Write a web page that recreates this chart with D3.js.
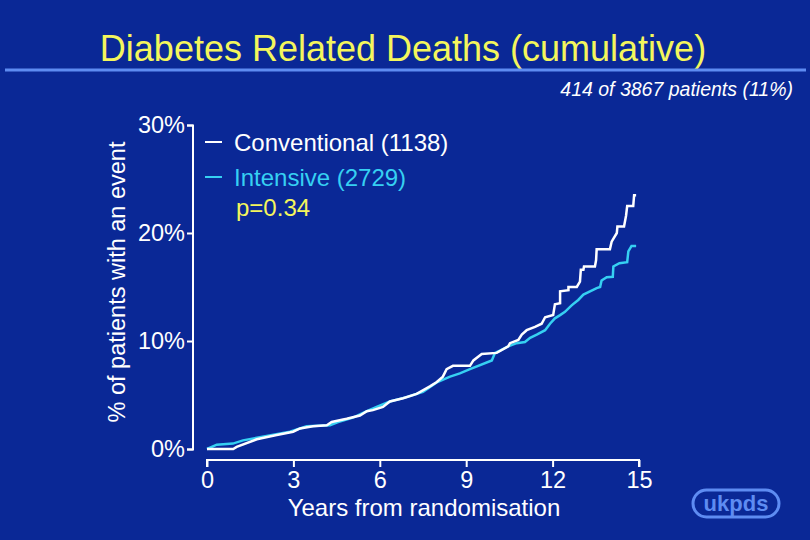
<!DOCTYPE html>
<html><head><meta charset="utf-8">
<script src="https://cdn.jsdelivr.net/npm/d3@7/dist/d3.min.js"></script>
<style>html,body{margin:0;padding:0;background:#0a2896;}svg{display:block;}</style>
</head><body>
<script>
// ---- data (years from randomisation, cumulative % with event) ----
const conventionalT = [0,0.91,1.03,1.73,2.42,2.99,3.23,3.68,4.16,4.33,4.85,5.31,5.55,5.76,6.11,6.35,6.81,7.28,7.74,7.98,8.19,8.32,8.54,9.13,9.25,9.54,10.06,10.46,10.52,10.81,10.93,11.10,11.39,11.62,11.74,12.02,12.08,12.26,12.26,12.55,12.55,12.84,12.95,12.98,13.07,13.09,13.47,13.51,13.53,13.99,14.05,14.23,14.25,14.48,14.55,14.59,14.80,14.83,14.90];
const conventionalV = [0,0,0.2,0.9,1.3,1.6,1.9,2.1,2.2,2.5,2.8,3.1,3.5,3.6,3.9,4.4,4.7,5.1,5.8,6.2,6.7,7.4,7.7,7.7,8.2,8.8,8.9,9.5,9.8,10.1,10.6,11.0,11.3,11.6,12.2,12.4,13.4,13.5,14.6,14.7,15.0,15.0,15.5,16.6,16.6,16.9,16.9,17.5,18.5,18.5,19.2,20.0,20.6,20.6,21.6,22.5,22.5,23.5,23.5];
const intensiveT = [0,0.34,0.90,1.25,2.07,2.88,3.46,4.27,4.55,5.07,5.55,5.89,6.35,6.93,7.50,8.00,8.44,8.78,9.13,9.89,10.00,10.17,10.46,10.75,11.04,11.22,11.45,11.74,11.91,12.08,12.26,12.43,12.66,12.89,13.07,13.30,13.53,13.65,13.70,13.88,14.09,14.11,14.32,14.59,14.63,14.74,14.90];
const intensiveV = [0,0.4,0.5,0.8,1.2,1.6,2.1,2.2,2.5,2.9,3.5,3.9,4.4,4.8,5.3,6.2,6.7,7.0,7.4,8.2,8.9,9.1,9.5,9.8,9.9,10.3,10.6,11.0,11.6,12.1,12.4,12.7,13.3,13.8,14.3,14.6,14.9,15.0,15.6,15.9,15.95,16.9,17.2,17.3,18.3,18.8,18.8];
const xTicks = [0,3,6,9,12,15];
const yTicks = [0,10,20,30];
const legendLabels = ["Conventional (1138)","Intensive (2729)"];
const pLabel = "p=0.34";
const titleText = "Diabetes Related Deaths (cumulative)";
const subtitleText = "414 of 3867 patients (11%)";
const xLabel = "Years from randomisation";
const yLabel = "% of patients with an event";

const W = 810, H = 540;
const BG = "#0a2896", WHITE = "#ffffff", CYAN = "#36d0f2", YELLOW = "#f4f65c", LBLUE = "#5e8cf2";
const FONT = "'Liberation Sans', Arial, sans-serif";

const svg = d3.select("body").append("svg").attr("width", W).attr("height", H);
svg.append("rect").attr("width", W).attr("height", H).attr("fill", BG);

// title
svg.append("text").attr("x", 403).attr("y", 61).attr("text-anchor","middle")
  .attr("font-family", FONT).attr("font-size", 36).attr("fill", YELLOW).text(titleText);
svg.append("line").attr("x1", 5).attr("x2", 806).attr("y1", 70).attr("y2", 70)
  .attr("stroke", LBLUE).attr("stroke-width", 3);
svg.append("text").attr("x", 793).attr("y", 96).attr("text-anchor","end")
  .attr("font-family", FONT).attr("font-size", 19.5).attr("font-style","italic").attr("fill", WHITE).text(subtitleText);

const x = d3.scaleLinear().domain([0,15]).range([207,639]);
const y = d3.scaleLinear().domain([0,30]).range([449,125]);

// y axis
const yAxis = svg.append("g").attr("transform","translate(193,0)")
  .call(d3.axisLeft(y).tickValues(yTicks).tickSize(6).tickPadding(2).tickFormat(d => d + "%"));
// x axis
const xAxis = svg.append("g").attr("transform","translate(0,460)")
  .call(d3.axisBottom(x).tickValues(xTicks).tickSize(7).tickPadding(4));
[yAxis, xAxis].forEach(g => {
  g.select(".domain").attr("stroke", WHITE).attr("stroke-width", 2);
  g.selectAll(".tick line").attr("stroke", WHITE).attr("stroke-width", 2);
  g.selectAll(".tick text").attr("fill", WHITE).attr("font-family", FONT).attr("font-size", 23.5);
});
yAxis.select(".domain").attr("d", "M-6,125.5H0V449.5H-6");
xAxis.select(".domain").attr("d", "M207,7V0H639V7");

svg.append("text").attr("transform","translate(125,282) rotate(-90)").attr("text-anchor","middle")
  .attr("font-family", FONT).attr("font-size", 23.5).attr("fill", WHITE).text(yLabel);
svg.append("text").attr("x", 424).attr("y", 516).attr("text-anchor","middle")
  .attr("font-family", FONT).attr("font-size", 24).attr("fill", WHITE).text(xLabel);

// curves
const line = d3.line().x(d => x(d[0])).y(d => y(d[1])).curve(d3.curveLinear);
const conv = conventionalT.map((t,i) => [t, conventionalV[i]]);
const inten = intensiveT.map((t,i) => [t, intensiveV[i]]);
svg.append("path").attr("d", line(inten)).attr("fill","none").attr("stroke", CYAN).attr("stroke-width", 2.5);
svg.append("path").attr("d", line(conv)).attr("fill","none").attr("stroke", WHITE).attr("stroke-width", 2.5);

// legend
const leg = [{label: legendLabels[0], color: WHITE, y: 151},{label: legendLabels[1], color: CYAN, y: 186}];
leg.forEach(l => {
  svg.append("line").attr("x1", 205).attr("x2", 222).attr("y1", l.y - 9).attr("y2", l.y - 9)
    .attr("stroke", l.color).attr("stroke-width", 2);
  svg.append("text").attr("x", 234).attr("y", l.y).attr("font-family", FONT).attr("font-size", 24)
    .attr("fill", l.color).text(l.label);
});
svg.append("text").attr("x", 236).attr("y", 216).attr("font-family", FONT).attr("font-size", 24)
  .attr("fill", YELLOW).text(pLabel);

// ukpds logo
svg.append("rect").attr("x", 693).attr("y", 490).attr("width", 86).attr("height", 27).attr("rx", 13.5)
  .attr("fill","none").attr("stroke", LBLUE).attr("stroke-width", 3);
svg.append("text").attr("x", 736).attr("y", 511).attr("text-anchor","middle").attr("font-family", FONT)
  .attr("font-size", 22).attr("font-weight","bold").attr("fill", LBLUE).text("ukpds");
</script>
</body></html>
